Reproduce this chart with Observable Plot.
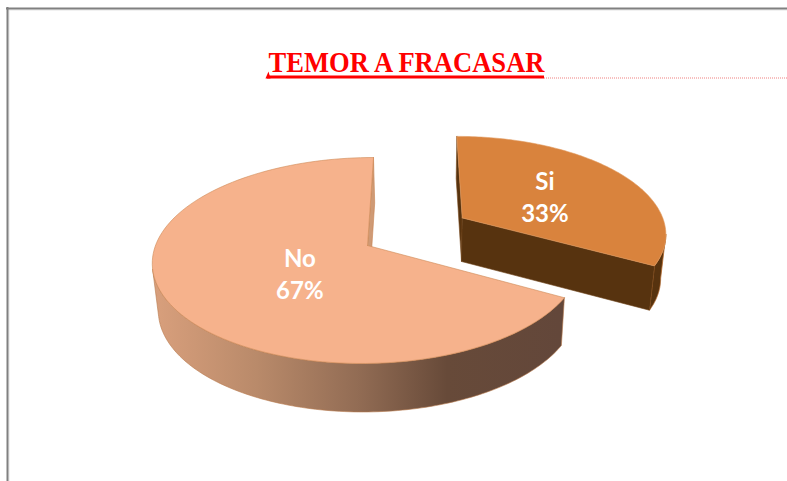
<!DOCTYPE html>
<html><head><meta charset="utf-8">
<style>html,body{margin:0;padding:0;background:#fff;overflow:hidden}svg{display:block}</style>
<script src="https://cdn.jsdelivr.net/npm/d3@7"></script>
<script src="https://cdn.jsdelivr.net/npm/@observablehq/plot@0.6"></script>
</head><body><script>
const chartTitle = "TEMOR A FRACASAR";
const categories = ["Si", "No"];
const percents = [33, 67];

// projection of the tilted disc onto the picture
const apex = [367, 245], A = 212, B = 100.8, K = 0.1456, SK = 6;
const explode = [[0.285, 0.457], [0, 0]];
const squeeze = [0.985, 1];
const drop = [44, 47];
const labelR = [0.475, 0.35], labelShift = [2, 11], labelNudge = [5, -1];
const silhouette = [100, 257]; // angle (deg) where each slice's side wall meets its outline
const total = d3.sum(percents);
const rad = d3.scaleLinear([0, total], [0, 2 * Math.PI]);
const starts = d3.cumsum([0, ...percents]);

function proj(u, v, down, i) {
  let x = apex[0] + A * v / (1 + K * u) + SK * u;
  let y = apex[1] - B * u / (1 + K * u);
  if (down) { x = 427 + 0.978 * (x - 427); y += drop[i] - 1.5 * u; }
  return {x, y};
}
const pt = (i, r, a, down) => proj(explode[i][0] + r * Math.cos(a), explode[i][1] + r * squeeze[i] * Math.sin(a), down, i);
function arc(i, a0, a1, down) {
  return d3.range(121).map(k => pt(i, 1, a0 + (a1 - a0) * k / 120, down));
}
function shapes(i) {
  const a0 = rad(starts[i]), a1 = rad(starts[i + 1]), s = silhouette[i] * Math.PI / 180;
  const c = pt(i, 0, 0), cd = pt(i, 0, 0, true);
  const top = [c, ...arc(i, a0, a1), c];
  const [f0, f1] = i === 0 ? [s, a1] : [a0, s];
  const side = [...arc(i, f0, f1), ...arc(i, f0, f1, true).reverse()];
  side.push(side[0]);
  const wallStart = [pt(i, 1, a0), pt(i, 1, a0, true), cd, c, pt(i, 1, a0)];
  const wallEnd = [pt(i, 1, a1), pt(i, 1, a1, true), cd, c, pt(i, 1, a1)];
  return {top, side, wallStart, wallEnd};
}
const si = shapes(0), no = shapes(1);

const shape = (d, fill, stroke, w = 0.6) => Plot.line(d, {x: "x", y: "y", fill, stroke, strokeWidth: w, curve: "linear"});

const gradient = () => {
  const defs = d3.create("svg:defs");
  const g = defs.append("linearGradient").attr("id", "noSide")
    .attr("gradientUnits", "userSpaceOnUse").attr("x1", 155).attr("x2", 560).attr("y1", 0).attr("y2", 0);
  [[0, "#d89f7c"], [0.25, "#b98a6a"], [0.5, "#926c54"], [0.72, "#674a39"], [1, "#63473a"]]
    .forEach(([o, c]) => g.append("stop").attr("offset", o).attr("stop-color", c));
  return defs.node();
};

const rows = categories.map((name, i) => {
  const a = (rad(starts[i]) + rad(starts[i + 1])) / 2;
  const p = pt(i, labelR[i], a);
  return {name, pct: percents[i] + "%", x: p.x + labelNudge[i], y: p.y + labelShift[i]};
});
const labelFont = {fontFamily: "Lato", fontWeight: 700, fontSize: 24, fill: "#fff", textAnchor: "middle"};

const plot = Plot.plot({
  width: 787, height: 481, margin: 0, style: {background: "#fff"},
  x: {domain: [0, 787], range: [0, 787], axis: null},
  y: {domain: [0, 481], range: [0, 481], axis: null},
  marks: [
    gradient,
    // chart frame
    Plot.ruleX([8.5], {y1: 8, y2: 481, stroke: "#e4e4e4", strokeWidth: 1}),
    Plot.ruleY([9.5], {x1: 8, x2: 787, stroke: "#e4e4e4", strokeWidth: 1}),
    Plot.ruleX([7], {y1: 7, y2: 481, stroke: "#808080", strokeWidth: 2}),
    Plot.ruleY([8], {x1: 6, x2: 787, stroke: "#808080", strokeWidth: 2}),
    // title
    Plot.ruleY([77.5], {x1: 544, x2: 787, stroke: "#f08080", strokeWidth: 1, strokeDasharray: "1 1"}),
    Plot.ruleY([76.5], {x1: 267, x2: 544, stroke: "#ff0000", strokeWidth: 3}),
    shape([{x: 265, y: 78}, {x: 268, y: 71}, {x: 270, y: 78}, {x: 265, y: 78}], "#ff0000", "none"),
    Plot.text([chartTitle], {x: () => 406, y: () => 71.5, text: d => d, className: "chart-title", fontFamily: "Liberation Serif", fontWeight: 700, fontSize: 28.5, fill: "#ff0000", textAnchor: "middle", lineAnchor: "bottom"}),
    // No slice
    shape(no.wallEnd, "#cf9a75", "#c8814f"),
    shape(no.side, "url(#noSide)", "#b87a4e"),
    shape(no.top, "#f6b28c", "#cf8a55"),
    // Si slice
    shape(si.wallStart, "#57330f", "#7a4c20"),
    shape(si.side, "#57330f", "#b4672a", 0.8),
    shape(si.wallEnd, "#57330f", "#6b4015"),
    shape(si.top, "#d9833d", "#e09a60"),
    // labels
    Plot.text(rows, {x: "x", y: "y", text: "name", dy: -16, ...labelFont}),
    Plot.text(rows, {x: "x", y: "y", text: "pct", dy: 16, ...labelFont})
  ]
});
d3.select(plot).selectAll(".chart-title text").attr("textLength", 276).attr("lengthAdjust", "spacingAndGlyphs");
document.body.appendChild(plot);
</script></body></html>
